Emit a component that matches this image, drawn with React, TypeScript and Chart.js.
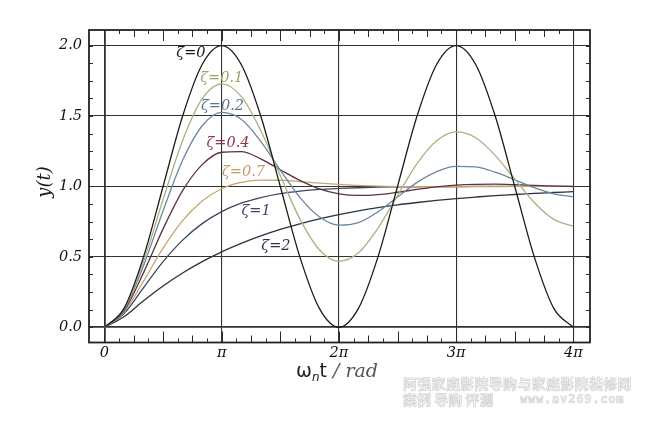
import React, { useEffect, useRef } from "react";
import { Chart, registerables } from "chart.js";

Chart.register(...registerables);

// x positions in units of π (ωn·t / π)
const xPi = [
  0, 0.1667, 0.3333, 0.5, 0.6667, 0.8333, 1, 1.1667, 1.3333, 1.5, 1.6667, 1.8333, 2,
  2.1667, 2.3333, 2.5, 2.6667, 2.8333, 3, 3.1667, 3.3333, 3.5, 3.6667, 3.8333, 4,
];

const zeta0 = [0, 0.134, 0.5, 1, 1.5, 1.866, 2, 1.866, 1.5, 1, 0.5, 0.134, 0, 0.134, 0.5, 1, 1.5, 1.866, 2, 1.866, 1.5, 1, 0.5, 0.134, 0];
const zeta01 = [0, 0.13, 0.468, 0.907, 1.327, 1.622, 1.729, 1.64, 1.397, 1.078, 0.77, 0.551, 0.469, 0.529, 0.704, 0.936, 1.162, 1.324, 1.387, 1.346, 1.221, 1.052, 0.886, 0.766, 0.718];
const zeta02 = [0, 0.125, 0.438, 0.828, 1.186, 1.431, 1.526, 1.477, 1.32, 1.116, 0.923, 0.785, 0.725, 0.743, 0.82, 0.925, 1.029, 1.106, 1.143, 1.139, 1.101, 1.047, 0.991, 0.948, 0.926];
const zeta04 = [0, 0.117, 0.388, 0.699, 0.97, 1.155, 1.243, 1.247, 1.196, 1.119, 1.043, 0.983, 0.948, 0.936, 0.942, 0.959, 0.979, 0.997, 1.009, 1.015, 1.016, 1.013, 1.008, 1.003, 0.999];
const zeta07 = [0, 0.107, 0.328, 0.562, 0.757, 0.897, 0.984, 1.029, 1.045, 1.044, 1.035, 1.024, 1.015, 1.007, 1.002, 0.999, 0.998, 0.998, 0.998, 0.999, 0.999, 1.0, 1.0, 1.0, 1.0];
const zeta1 = [0, 0.097, 0.282, 0.466, 0.619, 0.736, 0.821, 0.881, 0.921, 0.949, 0.967, 0.979, 0.986, 0.991, 0.995, 0.997, 0.998, 0.999, 0.999, 1.0, 1.0, 1.0, 1.0, 1.0, 1.0];
const zeta2 = [0, 0.075, 0.188, 0.293, 0.385, 0.466, 0.536, 0.596, 0.649, 0.695, 0.735, 0.77, 0.8, 0.826, 0.849, 0.869, 0.886, 0.901, 0.914, 0.925, 0.935, 0.943, 0.951, 0.957, 0.963];

const seriesNames = ["ζ=0", "ζ=0.1", "ζ=0.2", "ζ=0.4", "ζ=0.7", "ζ=1", "ζ=2"];
const seriesValues = [zeta0, zeta01, zeta02, zeta04, zeta07, zeta1, zeta2];
const lineColors = ["#1c1c1c", "#a8b283", "#6b879c", "#5a3340", "#c6a570", "#3c4560", "#2b3142"];
const labelColors = ["#151515", "#93ab6c", "#57778f", "#93364a", "#c39a62", "#3a4463", "#2b3145"];
// where each curve's name is written (x in π units, y value)
const labelX = [0.738, 1.0, 1.007, 1.054, 1.186, 1.293, 1.463];
const labelY = [1.948, 1.768, 1.572, 1.307, 1.101, 0.826, 0.577];

const xTickValues = [0, 1, 2, 3, 4];
const xTickLabels = ["0", "π", "2π", "3π", "4π"];
const yTickValues = [0, 0.5, 1, 1.5, 2];

export default function App() {
  const ref = useRef<HTMLCanvasElement>(null);

  useEffect(() => {
    if (!ref.current) return;
    const SERIF = '"DejaVu Serif"';
    const SANS = '"DejaVu Sans"';

    const decor = {
      id: "decor",
      afterDraw(chart: any) {
        const { ctx, chartArea: a } = chart;
        const xs = chart.scales.x;
        const ys = chart.scales.y;
        ctx.save();
        // minor tick marks inside the frame
        ctx.strokeStyle = "#2a2a2a";
        ctx.lineWidth = 1;
        for (let k = -2; k <= 34; k++) {
          const px = Math.round(xs.getPixelForValue(k / 8)) + 0.5;
          if (px < a.left + 2 || px > a.right - 2) continue;
          const len = k % 4 === 0 ? 11 : k % 2 === 0 ? 7 : 4;
          ctx.beginPath();
          ctx.moveTo(px, a.bottom);
          ctx.lineTo(px, a.bottom - len);
          ctx.moveTo(px, a.top);
          ctx.lineTo(px, a.top + len);
          ctx.stroke();
        }
        for (let j = -2; j <= 18; j++) {
          const py = Math.round(ys.getPixelForValue(j * 0.125)) + 0.5;
          if (py < a.top + 2 || py > a.bottom - 2) continue;
          ctx.beginPath();
          ctx.moveTo(a.left, py);
          ctx.lineTo(a.left + 4, py);
          ctx.moveTo(a.right, py);
          ctx.lineTo(a.right - 4, py);
          ctx.stroke();
        }
        // frame
        ctx.lineWidth = 1.8;
        ctx.strokeStyle = "#222";
        ctx.strokeRect(a.left, a.top, a.right - a.left, a.bottom - a.top);

        // curve names
        ctx.font = `italic 14.5px ${SERIF}`;
        ctx.textAlign = "center";
        ctx.textBaseline = "middle";
        seriesNames.forEach((name, i) => {
          ctx.fillStyle = labelColors[i];
          ctx.fillText(name, xs.getPixelForValue(labelX[i]), ys.getPixelForValue(labelY[i]));
        });

        // x title: ωn t / rad
        const parts = [
          { t: "ω", f: `19px ${SANS}`, c: "#222", dy: 0 },
          { t: "n", f: `italic 12px ${SANS}`, c: "#222", dy: 4 },
          { t: "t", f: `19px ${SANS}`, c: "#222", dy: 0 },
          { t: " / rad", f: `italic 19px ${SERIF}`, c: "#555", dy: 0 },
        ];
        let total = 0;
        const widths = parts.map((p) => {
          ctx.font = p.f;
          const w = ctx.measureText(p.t).width;
          total += w;
          return w;
        });
        let cx = 337 - total / 2;
        ctx.textAlign = "left";
        ctx.textBaseline = "alphabetic";
        parts.forEach((p, i) => {
          ctx.font = p.f;
          ctx.fillStyle = p.c;
          ctx.fillText(p.t, cx, 377 + p.dy);
          cx += widths[i];
        });

        // y title
        ctx.translate(45, 182);
        ctx.rotate(-Math.PI / 2);
        ctx.font = `italic 18px ${SERIF}`;
        ctx.fillStyle = "#1a1a1a";
        ctx.textAlign = "center";
        ctx.textBaseline = "middle";
        ctx.fillText("y(t)", 0, 0);
        ctx.restore();
      },
    };

    const chart = new Chart(ref.current, {
      type: "line",
      data: {
        datasets: seriesValues.map((vals, i) => ({
          label: seriesNames[i],
          data: xPi.map((x, k) => ({ x, y: vals[k] })),
          borderColor: lineColors[i],
          borderWidth: 1.3,
          pointRadius: 0,
          fill: false,
          cubicInterpolationMode: "monotone" as const,
        })),
      },
      options: {
        responsive: false,
        animation: false,
        devicePixelRatio: 1,
        layout: { padding: { left: 0, top: 30, right: 60, bottom: 0 } },
        plugins: { legend: { display: false }, tooltip: { enabled: false } },
        scales: {
          x: {
            type: "linear",
            min: -0.132,
            max: 4.142,
            afterBuildTicks: (s: any) => {
              s.ticks = xTickValues.map((v) => ({ value: v }));
            },
            afterFit: (s: any) => {
              s.height = 87.5;
            },
            grid: {
              color: "#333",
              lineWidth: (c: any) => (c.tick && c.tick.value === 0 ? 1.8 : 1.1),
              drawTicks: false,
            },
            border: { display: false },
            ticks: {
              padding: 2,
              color: "#111",
              autoSkip: false,
              maxRotation: 0,
              font: { family: "DejaVu Serif", style: "italic", size: 14.5 },
              callback: (v: any) => {
                const i = xTickValues.indexOf(Number(v));
                return i >= 0 ? xTickLabels[i] : "";
              },
            },
          },
          y: {
            type: "linear",
            min: -0.108,
            max: 2.111,
            afterBuildTicks: (s: any) => {
              s.ticks = yTickValues.map((v) => ({ value: v }));
            },
            afterFit: (s: any) => {
              s.width = 89;
            },
            grid: {
              color: "#333",
              lineWidth: (c: any) => (c.tick && c.tick.value === 0 ? 1.8 : 1.1),
              drawTicks: false,
            },
            border: { display: false },
            ticks: {
              padding: 7,
              color: "#111",
              autoSkip: false,
              font: { family: "DejaVu Serif", style: "italic", size: 14.5 },
              callback: (v: any) => Number(v).toFixed(1),
            },
          },
        },
      },
      plugins: [decor],
    });
    return () => chart.destroy();
  }, []);

  return (
    <div style={{ position: "fixed", left: 0, top: 0, width: 650, height: 430, background: "#fff" }}>
      <canvas ref={ref} width={650} height={430} style={{ display: "block" }} />
      <div
        style={{
          position: "absolute",
          left: 403,
          top: 374,
          fontFamily: '"Noto Sans CJK SC"',
          fontWeight: 700,
          fontSize: 14,
          letterSpacing: 0.3,
          color: "#f3f3f3",
          WebkitTextStroke: "0.6px #cfcfcf",
          whiteSpace: "nowrap",
          lineHeight: "18px",
        }}
      >
        阿强家庭影院导购与家庭影院装修网
      </div>
      <div
        style={{
          position: "absolute",
          left: 403,
          top: 390,
          fontFamily: '"Noto Sans CJK SC"',
          fontWeight: 700,
          fontSize: 14,
          color: "#f3f3f3",
          WebkitTextStroke: "0.6px #cfcfcf",
          whiteSpace: "nowrap",
          lineHeight: "18px",
        }}
      >
        案例 导购 评测
        <span style={{ position: "absolute", left: 117, top: 0, fontFamily: '"DejaVu Sans Mono"', fontSize: 12, letterSpacing: 0.8 }}>
          www.av269.com
        </span>
      </div>
    </div>
  );
}
